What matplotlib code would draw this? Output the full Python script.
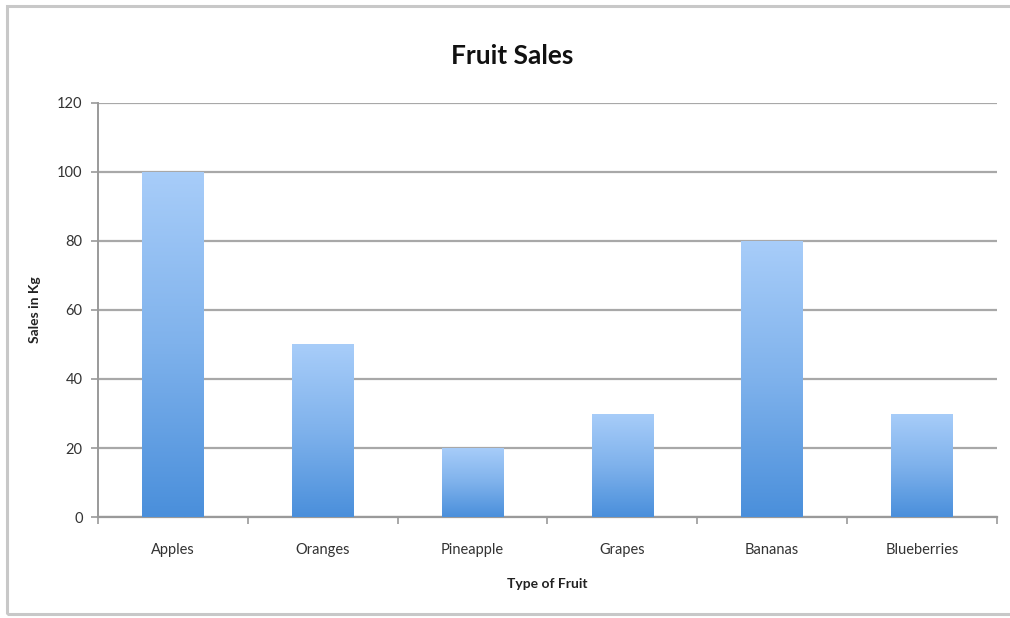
import numpy as np
import matplotlib
matplotlib.use("Agg")
import matplotlib.pyplot as plt
from matplotlib.colors import LinearSegmentedColormap
from matplotlib.patches import Rectangle

fruits = ["Apples", "Oranges", "Pineapple", "Grapes", "Bananas", "Blueberries"]
sales = [100, 50, 20, 30, 80, 30]
y_ticks = [0, 20, 40, 60, 80, 100, 120]

plt.rcParams["font.family"] = ["Lato", "DejaVu Sans"]

fig = plt.figure(figsize=(10.1, 6.18), dpi=100)
fig.patch.set_facecolor("white")

# light frame around the chart area
frame = Rectangle((0.0065, 0.006), 1.1, 0.985, transform=fig.transFigure,
                  fill=False, edgecolor="#c8c8c8", linewidth=2.2)
fig.patches.append(frame)

ax = fig.add_axes([0.097, 0.1634, 0.89, 0.67])
x = np.arange(len(fruits))
bars = ax.bar(x, sales, width=0.41, color="none", edgecolor="none", zorder=3)

grad = LinearSegmentedColormap.from_list("bar_grad", ["#4a8fdb", "#7fb2ec", "#a8cdf9"])
gradient = np.linspace(0, 1, 256).reshape(-1, 1)
for b in bars:
    x0, y0 = b.get_x(), b.get_y()
    w, h = b.get_width(), b.get_height()
    im = ax.imshow(gradient, cmap=grad, aspect="auto", origin="lower",
                   extent=(x0, x0 + w, y0, y0 + h), zorder=3)
    im.set_clip_path(b)

ax.set_xlim(-0.5, len(fruits) - 0.5)
ax.set_ylim(0, 120)
ax.set_yticks(y_ticks)
ax.set_yticklabels([str(v) for v in y_ticks])
ax.yaxis.grid(True, color="#a8a8a8", linewidth=1.6, zorder=0)
ax.set_axisbelow(True)

ax.set_xticks(x)
ax.set_xticklabels(fruits)
ax.set_xticks(np.arange(-0.5, len(fruits)), minor=True)
ax.tick_params(axis="x", which="major", length=0, pad=19, labelsize=10.5, labelcolor="#333333")
ax.tick_params(axis="x", which="minor", length=5, width=1.2, color="#9a9a9a", direction="out")
ax.tick_params(axis="y", length=5, width=1.2, color="#9a9a9a", labelsize=10.5,
               labelcolor="#333333", pad=6)

for s in ["top", "right"]:
    ax.spines[s].set_visible(False)
ax.spines["left"].set_color("#9a9a9a")
ax.spines["left"].set_linewidth(1.4)
ax.spines["bottom"].set_color("#9a9a9a")
ax.spines["bottom"].set_linewidth(1.6)

ax.set_ylabel("Sales in Kg", fontsize=10, fontweight="bold", color="#222222", labelpad=12)
ax.set_xlabel("Type of Fruit", fontsize=10, fontweight="bold", color="#222222", labelpad=15)
fig.text(0.507, 0.91, "Fruit Sales", ha="center", va="center",
         fontsize=19, fontweight="bold", color="#111111")

fig.savefig("out.png", dpi=100)
